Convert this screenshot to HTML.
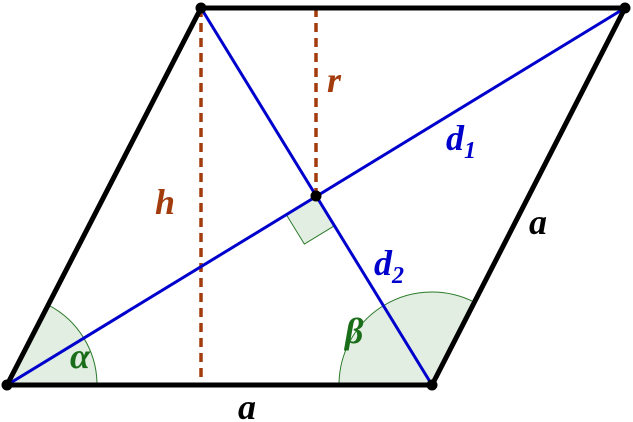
<!DOCTYPE html>
<html><head><meta charset="utf-8"><style>body{margin:0;background:#fff}svg{display:block}</style></head><body>
<svg width="633" height="422" viewBox="0 0 633 422" xmlns="http://www.w3.org/2000/svg">
<path d="M7,385 L97,385 A90,90 0 0 0 48.1,304.9 Z" fill="#e3eee3" stroke="#2a7a2a" stroke-width="1"/>
<path d="M432,385 L339,385 A93,93 0 0 1 474.4,302.2 Z" fill="#e3eee3" stroke="#2a7a2a" stroke-width="1"/>
<polygon points="316,196 286.1,214.3 304.4,244.1 334.3,225.8" fill="#e3eee3" stroke="none"/>
<polyline points="286.1,214.3 304.4,244.1 334.3,225.8" fill="none" stroke="#2a7a2a" stroke-width="1"/>
<line x1="201" y1="8" x2="201" y2="385" stroke="#a33c0c" stroke-width="3.5" stroke-dasharray="9,6"/>
<line x1="316" y1="8" x2="316" y2="196" stroke="#a33c0c" stroke-width="3.5" stroke-dasharray="9,6"/>
<line x1="7" y1="385" x2="625" y2="8" stroke="#0000cc" stroke-width="3"/>
<line x1="201" y1="8" x2="432" y2="385" stroke="#0000cc" stroke-width="3"/>
<polygon points="7,385 432,385 625,8 201,8" fill="none" stroke="#000" stroke-width="5" stroke-linejoin="round"/>
<g fill="#000"><circle cx="7" cy="385" r="5.5"/><circle cx="432" cy="385" r="5.5"/><circle cx="625" cy="8" r="5.5"/><circle cx="201" cy="8" r="5.5"/><circle cx="316" cy="196" r="5.5"/></g>
<g font-family="Liberation Serif, serif" font-style="italic" font-weight="bold" font-size="36">
<text x="155" y="214" fill="#a33c0c">h</text>
<text x="327" y="92" fill="#a33c0c">r</text>
<text x="446" y="150" fill="#0000cc">d<tspan font-size="24" dy="8">1</tspan></text>
<text x="374" y="275" fill="#0000cc">d<tspan font-size="24" dy="8">2</tspan></text>
<text x="529" y="234" fill="#000">a</text>
<text x="238" y="419" fill="#000">a</text>
<text x="345" y="343" fill="#1a6e1a">β</text>
<text x="70" y="368" fill="#1a6e1a">α</text>
</g>
</svg>
</body></html>
